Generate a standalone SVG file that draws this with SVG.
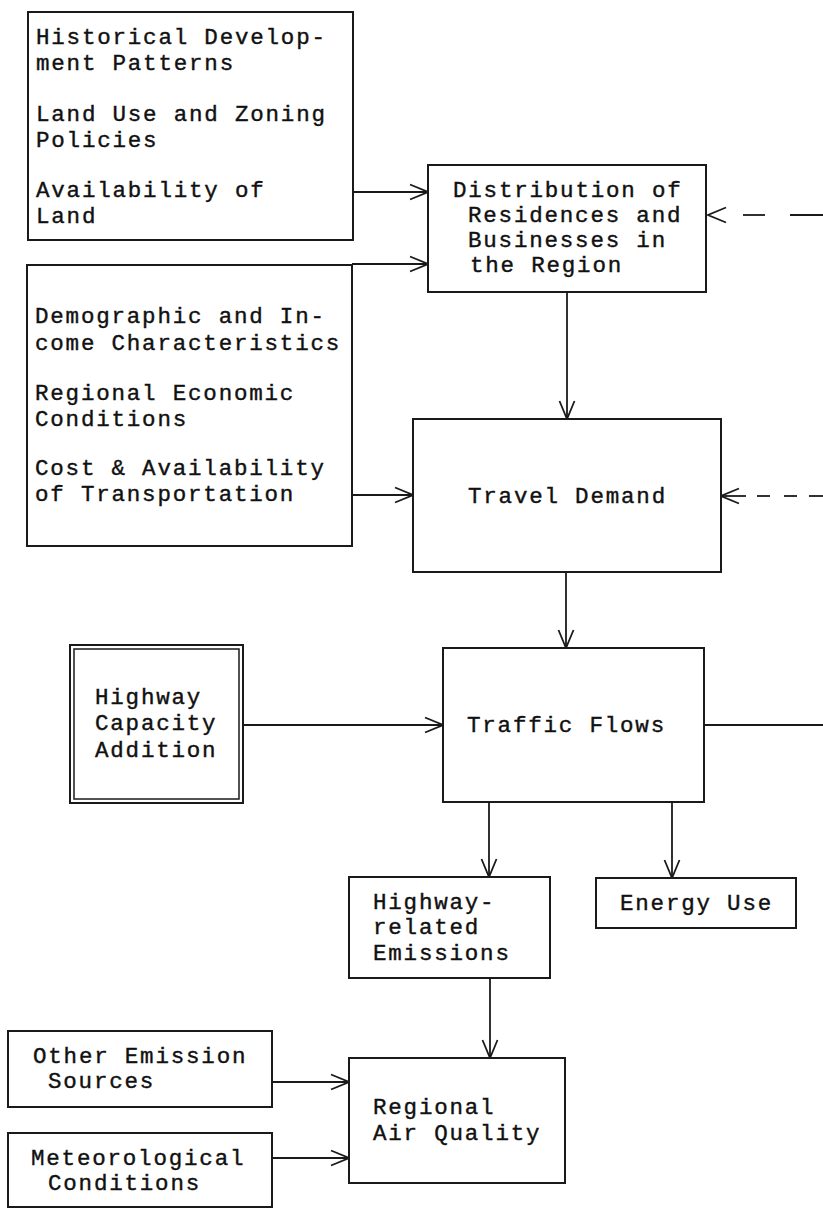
<svg xmlns="http://www.w3.org/2000/svg" width="823" height="1208" viewBox="0 0 823 1208">
  <defs>
    <style>
      .box { fill: #fff; stroke: #1a1a1a; stroke-width: 2; }
      .inner { fill: none; stroke: #1a1a1a; stroke-width: 1.5; }
      .lbl { font-family: "Liberation Mono", "Courier New", monospace; font-size: 22.5px; letter-spacing: 1.8px; fill: #111; stroke: #111; stroke-width: 0.4px; }
      .edge { fill: none; stroke: #1a1a1a; stroke-width: 1.8; }
    </style>
    <marker id="chev" viewBox="-20 -10 22 20" refX="0" refY="0" markerWidth="22" markerHeight="20" markerUnits="userSpaceOnUse" orient="auto">
      <path d="M-18,-7.5 L0,0 L-18,7.5" fill="none" stroke="#1a1a1a" stroke-width="1.8"/>
    </marker>
  </defs>

  <rect width="823" height="1208" fill="#fff"/>

  <g id="connectors">
    <line class="edge" x1="353" y1="192" x2="428" y2="192" marker-end="url(#chev)"/>
    <line class="edge" x1="352" y1="264" x2="428" y2="264" marker-end="url(#chev)"/>
    <line class="edge" x1="567" y1="292" x2="567" y2="419" marker-end="url(#chev)"/>
    <line class="edge" x1="352" y1="495" x2="413" y2="495" marker-end="url(#chev)"/>
    <!-- feedback into the distribution box: bare arrowhead and two long dashes -->
    <path class="edge" d="M726,207.5 L708,215 L726,222.5"/>
    <line class="edge" x1="743" y1="215" x2="765" y2="215"/>
    <line class="edge" x1="790" y1="215" x2="823" y2="215"/>
    <!-- feedback into travel demand: short shaft and short dashes -->
    <line class="edge" x1="746" y1="496" x2="721" y2="496" marker-end="url(#chev)"/>
    <line class="edge" x1="757" y1="496" x2="770" y2="496"/>
    <line class="edge" x1="784" y1="496" x2="797" y2="496"/>
    <line class="edge" x1="809" y1="496" x2="823" y2="496"/>
    <line class="edge" x1="566" y1="572" x2="566" y2="648" marker-end="url(#chev)"/>
    <line class="edge" x1="243" y1="725" x2="443" y2="725" marker-end="url(#chev)"/>
    <line class="edge" x1="704" y1="725" x2="823" y2="725"/>
    <line class="edge" x1="489" y1="802" x2="489" y2="877" marker-end="url(#chev)"/>
    <line class="edge" x1="672" y1="802" x2="672" y2="878" marker-end="url(#chev)"/>
    <line class="edge" x1="490" y1="978" x2="490" y2="1058" marker-end="url(#chev)"/>
    <line class="edge" x1="272" y1="1082" x2="349" y2="1082" marker-end="url(#chev)"/>
    <line class="edge" x1="272" y1="1158" x2="349" y2="1158" marker-end="url(#chev)"/>
  </g>

  <g id="land-factors">
    <rect class="box" x="28" y="12" width="325" height="228"/>
    <text class="lbl" x="36" y="44">Historical Develop-</text>
    <text class="lbl" x="36" y="70">ment Patterns</text>
    <text class="lbl" x="36" y="121">Land Use and Zoning</text>
    <text class="lbl" x="36" y="147">Policies</text>
    <text class="lbl" x="36" y="197">Availability of</text>
    <text class="lbl" x="36" y="223">Land</text>
  </g>

  <g id="socio-factors">
    <rect class="box" x="27" y="265" width="325" height="281"/>
    <text class="lbl" x="35" y="323">Demographic and In-</text>
    <text class="lbl" x="35" y="350">come Characteristics</text>
    <text class="lbl" x="35" y="400">Regional Economic</text>
    <text class="lbl" x="35" y="426">Conditions</text>
    <text class="lbl" x="35" y="475">Cost &amp; Availability</text>
    <text class="lbl" x="35" y="501">of Transportation</text>
  </g>

  <g id="distribution">
    <rect class="box" x="428" y="165" width="278" height="127"/>
    <text class="lbl" x="453" y="197">Distribution of</text>
    <text class="lbl" x="468" y="222">Residences and</text>
    <text class="lbl" x="468" y="247">Businesses in</text>
    <text class="lbl" x="470" y="272">the Region</text>
  </g>

  <g id="travel-demand">
    <rect class="box" x="413" y="419" width="308" height="153"/>
    <text class="lbl" x="468" y="503">Travel Demand</text>
  </g>

  <g id="highway-capacity">
    <rect class="box" x="70" y="645" width="173" height="158"/>
    <rect class="inner" x="74" y="649" width="165" height="150"/>
    <text class="lbl" x="95" y="704">Highway</text>
    <text class="lbl" x="95" y="730">Capacity</text>
    <text class="lbl" x="95" y="757">Addition</text>
  </g>

  <g id="traffic-flows">
    <rect class="box" x="443" y="648" width="261" height="154"/>
    <text class="lbl" x="467" y="732">Traffic Flows</text>
  </g>

  <g id="highway-emissions">
    <rect class="box" x="349" y="877" width="201" height="101"/>
    <text class="lbl" x="373" y="909">Highway-</text>
    <text class="lbl" x="373" y="934">related</text>
    <text class="lbl" x="373" y="960">Emissions</text>
  </g>

  <g id="energy-use">
    <rect class="box" x="596" y="878" width="200" height="50"/>
    <text class="lbl" x="620" y="910">Energy Use</text>
  </g>

  <g id="other-sources">
    <rect class="box" x="8" y="1031" width="264" height="76"/>
    <text class="lbl" x="33" y="1063">Other Emission</text>
    <text class="lbl" x="48" y="1088">Sources</text>
  </g>

  <g id="meteorology">
    <rect class="box" x="8" y="1133" width="264" height="74"/>
    <text class="lbl" x="31" y="1165">Meteorological</text>
    <text class="lbl" x="48" y="1190">Conditions</text>
  </g>

  <g id="air-quality">
    <rect class="box" x="349" y="1058" width="216" height="125"/>
    <text class="lbl" x="373" y="1114">Regional</text>
    <text class="lbl" x="373" y="1140">Air Quality</text>
  </g>
</svg>
